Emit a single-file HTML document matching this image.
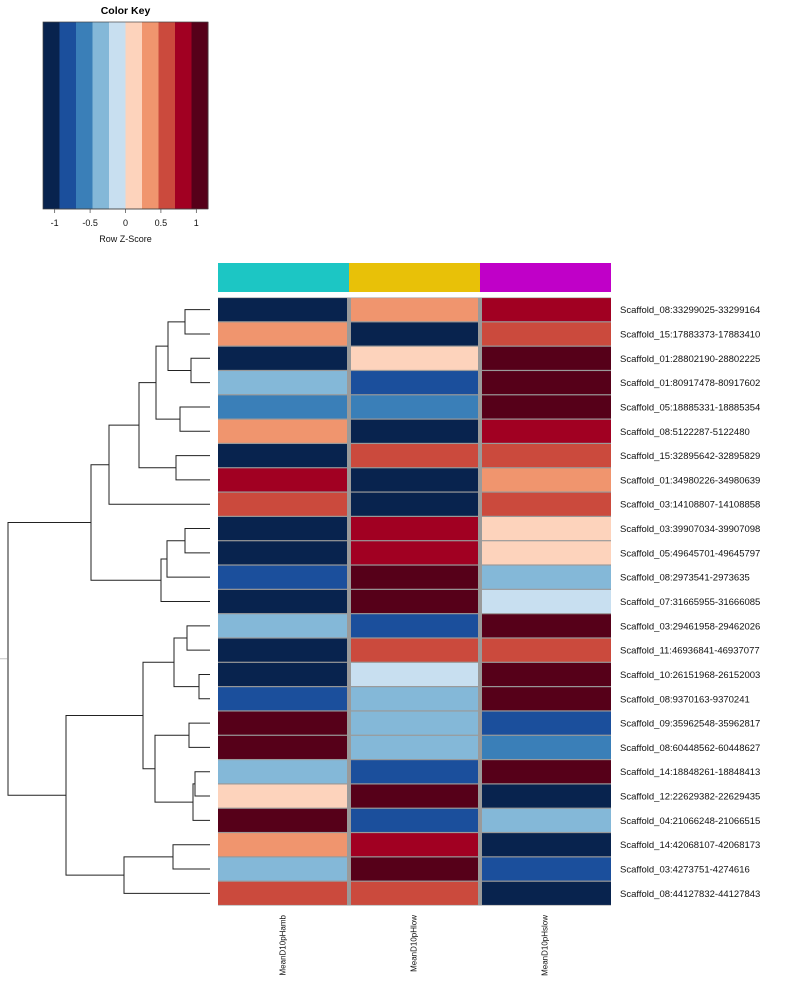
<!DOCTYPE html>
<html><head><meta charset="utf-8">
<style>
html,body{margin:0;padding:0;background:#fff;}
svg{display:block;font-family:"Liberation Sans",Arial,sans-serif;}
</style></head>
<body>
<svg id="chart" width="800" height="1000" viewBox="0 0 800 1000" xmlns="http://www.w3.org/2000/svg"></svg>
<script>
// ---- data ----
const rowLabels = ["Scaffold_08:33299025-33299164","Scaffold_15:17883373-17883410","Scaffold_01:28802190-28802225","Scaffold_01:80917478-80917602","Scaffold_05:18885331-18885354","Scaffold_08:5122287-5122480","Scaffold_15:32895642-32895829","Scaffold_01:34980226-34980639","Scaffold_03:14108807-14108858","Scaffold_03:39907034-39907098","Scaffold_05:49645701-49645797","Scaffold_08:2973541-2973635","Scaffold_07:31665955-31666085","Scaffold_03:29461958-29462026","Scaffold_11:46936841-46937077","Scaffold_10:26151968-26152003","Scaffold_08:9370163-9370241","Scaffold_09:35962548-35962817","Scaffold_08:60448562-60448627","Scaffold_14:18848261-18848413","Scaffold_12:22629382-22629435","Scaffold_04:21066248-21066515","Scaffold_14:42068107-42068173","Scaffold_03:4273751-4274616","Scaffold_08:44127832-44127843"];
const colLabels = ["MeanD10pHamb","MeanD10pHlow","MeanD10pHslow"];
const colSideColors = ["#1cc6c4","#e8c108","#c000c8"];
// z-scores per column
const zAmb  = [-1.05,0.35,-1.05,-0.35,-0.6,0.35,-1.05,0.82,0.58,-1.05,-1.05,-0.82,-1.05,-0.35,-1.05,-1.05,-0.82,1.05,1.05,-0.35,0.12,1.05,0.35,-0.35,0.58];
const zLow  = [0.35,-1.05,0.12,-0.82,-0.6,-1.05,0.58,-1.05,-1.05,0.82,0.82,1.05,1.05,-0.82,0.58,-0.12,-0.35,-0.35,-0.35,-0.82,1.05,-0.82,0.82,1.05,0.58];
const zSlow = [0.82,0.58,1.05,1.05,1.05,0.82,0.58,0.35,0.58,0.12,0.12,-0.35,-0.12,1.05,0.58,1.05,1.05,-0.82,-0.6,1.05,-1.05,-0.35,-1.05,-0.82,-1.05];
const keyTicks = [-1,-0.5,0,0.5,1];
const palette = ["#08234e","#1b4f9c","#3a7fb8","#84b8d8","#c8dff0","#fdd3bc","#f0956e","#cb4a3d","#a10022","#560019"];
// dendrogram merges: [leftNode, rightNode, height]; leaves 0..24, merges numbered from 25
const merges = [
 [0,1,25],[2,3,19],[25,26,42],[4,5,30],[27,28,54],[6,7,34],[29,30,71],[31,8,101],
 [9,10,25],[33,11,43],[34,12,49],[32,35,119],
 [13,14,23],[15,16,11],[37,38,36],[17,18,21],[19,20,15],[41,21,17],[40,42,55],[39,43,67],
 [22,23,37],[45,24,86],[44,46,144],[36,47,202]
];
// ---- scales ----
const svg = document.getElementById('chart');
const NS = "http://www.w3.org/2000/svg";
const hmX0 = 218, hmX1 = 611, hmY0 = 297.5, hmY1 = 905.5;
const nRows = rowLabels.length, nCols = colLabels.length;
const rowH = (hmY1 - hmY0) / nRows, colW = (hmX1 - hmX0) / nCols;
const zMin = -1.165, zMax = 1.165;
function colorFor(z){let i=Math.floor((z-zMin)/(zMax-zMin)*palette.length);i=Math.max(0,Math.min(palette.length-1,i));return palette[i];}
function rowY(i){return hmY0 + i*rowH;}
function colX(j){return hmX0 + j*colW;}
const leafX = 210, heightScale = 1; // height -> pixels leftward
function hX(h){return leafX - h*heightScale;}
function mk(tag, attrs){const e=document.createElementNS(NS,tag);for(const k in attrs)e.setAttribute(k,attrs[k]);svg.appendChild(e);return e;}

// ---- color key ----
const kx0=43, kx1=208, ky0=22, ky1=209;
const kt = mk('text',{x:125.5,y:14,'text-anchor':'middle','font-size':10.5,'font-weight':'bold',fill:'#000'});
kt.textContent='Color Key';


function kX(z){return kx0 + (z-zMin)/(zMax-zMin)*(kx1-kx0);}
palette.forEach((c,i)=>{
  const zA = zMin + i*(zMax-zMin)/palette.length, zB = zMin + (i+1)*(zMax-zMin)/palette.length;
  const r = mk('rect',{x:kX(zA),y:ky0,width:kX(zB)-kX(zA)+0.5,height:ky1-ky0,fill:c});
  
  
});
const kb = mk('rect',{x:kx0,y:ky0,width:kx1-kx0,height:ky1-ky0,fill:'none',stroke:'#444','stroke-width':0.7});


mk('line',{x1:kX(keyTicks[0]),x2:kX(keyTicks[keyTicks.length-1]),y1:ky1,y2:ky1,stroke:'#444','stroke-width':0.7});
keyTicks.forEach(t=>{
  mk('line',{x1:kX(t),x2:kX(t),y1:ky1,y2:ky1+4,stroke:'#444','stroke-width':0.7});
  const tx = mk('text',{x:kX(t),y:ky1+17,'text-anchor':'middle','font-size':9,fill:'#111'});
  tx.textContent = String(t);
  
  
});
const kxl = mk('text',{x:125.5,y:ky1+33,'text-anchor':'middle','font-size':9,fill:'#111'});
kxl.textContent='Row Z-Score';



// ---- column side colors ----
colSideColors.forEach((c,j)=>{
  const r = mk('rect',{x:colX(j),y:263,width:colW,height:29,fill:c});
  
  
});

// ---- heatmap ----
const bg = mk('rect',{x:hmX0,y:hmY0,width:hmX1-hmX0,height:hmY1-hmY0,fill:'#9a9a9a'});


const cols = [zAmb, zLow, zSlow];
for(let i=0;i<nRows;i++){
  for(let j=0;j<nCols;j++){
    const x = colX(j) + (j>0?2:0), w = colW - (j>0?2:0) - (j<nCols-1?2:0);
    const r = mk('rect',{x:x,y:rowY(i)+0.6,width:w,height:rowH-1.2,fill:colorFor(cols[j][i])});
    
    
  }
  const t = mk('text',{x:620,y:rowY(i)+rowH/2+3.5,'font-size':9.5,fill:'#111'});
  t.textContent = rowLabels[i];
  
  
}
colLabels.forEach((l,j)=>{
  const cx = colX(j)+colW/2+2;
  const t = mk('text',{x:0,y:0,'text-anchor':'end','font-size':8,fill:'#111',transform:`translate(${cx},915) rotate(-90)`});
  t.textContent = l;
  
  
});

// ---- dendrogram ----
const nodeY = [], nodeH = [];
for(let i=0;i<nRows;i++){nodeY.push(rowY(i)+rowH/2);nodeH.push(0);}
merges.forEach(m=>{
  const [a,b,h]=m;
  const x = hX(h);
  const d = `M${hX(nodeH[a])},${nodeY[a]}H${x}V${nodeY[b]}H${hX(nodeH[b])}`;
  const p = mk('path',{d:d,fill:'none',stroke:'#222','stroke-width':1});
  
  
  nodeY.push((nodeY[a]+nodeY[b])/2);
  nodeH.push(h);
});
const rootIdx = nodeY.length-1;
mk('line',{x1:hX(nodeH[rootIdx])-8,x2:hX(nodeH[rootIdx]),y1:nodeY[rootIdx],y2:nodeY[rootIdx],stroke:'#888','stroke-width':0.5});
</script>
</body></html>
